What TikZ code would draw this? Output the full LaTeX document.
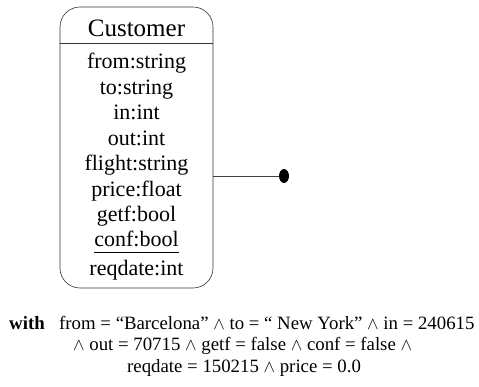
\documentclass[tikz,border=0pt]{standalone}
\usepackage{fontspec}
\setmainfont{Liberation Serif}
\usetikzlibrary{shapes.geometric}
\tikzset{
  attr/.style={anchor=base, inner sep=0pt, font=\fontsize{22}{22}\selectfont},
  title/.style={anchor=base, inner sep=0pt, font=\fontsize{25}{25}\selectfont},
  cond/.style={anchor=base west, inner sep=0pt, font=\fontsize{18.8}{18.8}\selectfont},
  classbox/.style={draw=black!80, line width=0.6pt, rounded corners=20pt, minimum width=153pt, minimum height=281pt, inner sep=0pt},
  dotend/.style={ellipse, fill=black, minimum width=10pt, minimum height=14pt, inner sep=0pt},
  link/.style={draw=black!75, line width=0.5pt}
}
\newcommand{\wdg}{$\wedge$}
\begin{document}
\begin{tikzpicture}[x=1pt, y=-1pt]
\useasboundingbox (0,0) rectangle (479,387);
\node[classbox] (box) at (136.5,147.5) {};
\coordinate (sepy) at (0,43.5);
\draw[draw=black!80, line width=0.6pt] (box.west |- sepy) -- (box.east |- sepy);
\node[title] (name) at (136.5,36.5) {Customer};
\node[attr] (a1) at (136.5,69) {from:string};
\node[attr] (a2) at (136.5,94.5) {to:string};
\node[attr] (a3) at (136.5,120) {in:int};
\node[attr] (a4) at (136.5,145.5) {out:int};
\node[attr] (a5) at (136.5,171) {flight:string};
\node[attr] (a6) at (136.5,196.5) {price:float};
\node[attr] (a7) at (136.5,222) {getf:bool};
\node[attr] (a8) at (136.5,247) {conf:bool};
\draw[line width=1.3pt] ([yshift=-5.5pt]a8.base west) -- ([yshift=-5.5pt]a8.base east);
\node[attr] (a9) at (136.5,276) {reqdate:int};
\node[dotend] (dot) at (284,176) {};
\path[link] (box.east |- dot) -- (dot);
\node[cond, font=\fontsize{18.8}{18.8}\selectfont\bfseries] (w) at (9,329) {with};
\node[cond] (l1) at (59,329) {from = “Barcelona” \wdg{} to = “ New York” \wdg{} in = 240615};
\node[cond] (l2) at (73,350.5) {\wdg{} out = 70715 \wdg{} getf = false \wdg{} conf = false \wdg};
\node[cond] (l3) at (127,372) {reqdate = 150215 \wdg{} price = 0.0};
\end{tikzpicture}
\end{document}
